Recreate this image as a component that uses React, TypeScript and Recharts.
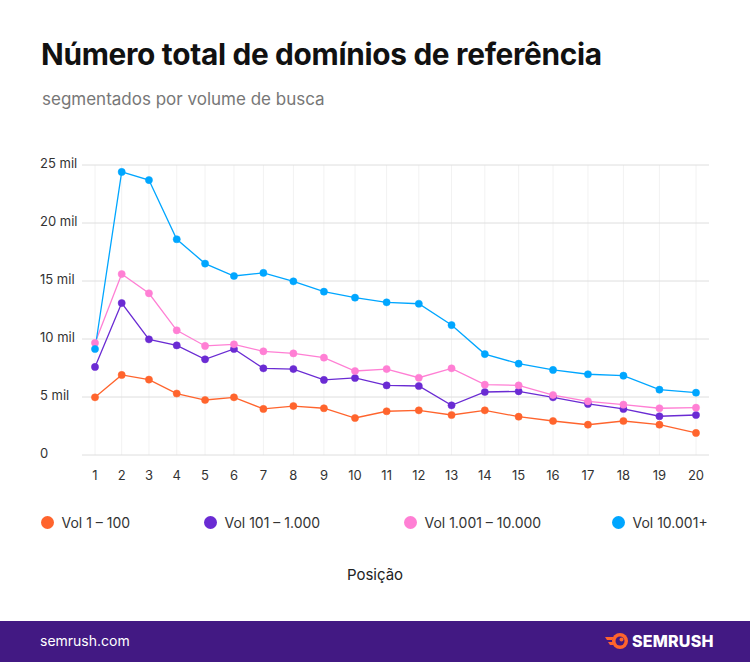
import React from 'react';
import { LineChart, Line, XAxis, YAxis, CartesianGrid } from 'recharts';

const positions = [1, 2, 3, 4, 5, 6, 7, 8, 9, 10, 11, 12, 13, 14, 15, 16, 17, 18, 19, 20];
const vol1to100 = [4970, 6900, 6500, 5300, 4740, 4970, 3970, 4220, 4030, 3190, 3770, 3850, 3450, 3850, 3300, 2930, 2610, 2930, 2610, 1900];
const vol101to1000 = [7590, 13100, 9970, 9450, 8250, 9140, 7470, 7410, 6470, 6640, 6000, 5950, 4280, 5430, 5490, 4970, 4400, 3970, 3340, 3450];
const vol1001to10000 = [9660, 15600, 13940, 10750, 9400, 9540, 8940, 8760, 8390, 7240, 7410, 6660, 7470, 6060, 6000, 5170, 4630, 4340, 4030, 4080];
const vol10001plus = [9140, 24400, 23700, 18600, 16500, 15430, 15700, 14970, 14080, 13560, 13160, 13040, 11200, 8700, 7870, 7330, 6960, 6840, 5630, 5370];
const yTicks = [0, 5000, 10000, 15000, 20000, 25000];
const yTickLabels = ['0', '5 mil', '10 mil', '15 mil', '20 mil', '25 mil'];

const seriesNames = ['Vol 1 – 100', 'Vol 101 – 1.000', 'Vol 1.001 – 10.000', 'Vol 10.001+'];
const seriesKeys = ['a', 'b', 'c', 'd'];
const seriesColors = ['#FF642D', '#6A2BD3', '#FF7FD4', '#00A6FF'];

const data = positions.map((p, i) => ({
  pos: p,
  a: vol1to100[i],
  b: vol101to1000[i],
  c: vol1001to10000[i],
  d: vol10001plus[i],
}));

const FONT = 'Inter, "Noto Sans", sans-serif';

// Gently widening horizontal scale (spacing grows to the right, as in the reference)
function makeWideningScale(c: number): any {
  let dom: number[] = [0, 1];
  let rng: number[] = [0, 1];
  const f = (v: number) => v + c * v * v;
  const finv = (y: number) => (-1 + Math.sqrt(1 + 4 * c * y)) / (2 * c);
  const s: any = (v: number) => {
    const d0 = f(Number(dom[0]));
    const d1 = f(Number(dom[1]));
    const t = d1 === d0 ? 0.5 : (f(Number(v)) - d0) / (d1 - d0);
    return rng[0] + t * (rng[1] - rng[0]);
  };
  s.domain = (d?: any[]) => {
    if (d === undefined) return dom.slice();
    dom = d.map(Number);
    return s;
  };
  s.range = (r?: number[]) => {
    if (r === undefined) return rng.slice();
    rng = r.slice();
    return s;
  };
  s.copy = () => makeWideningScale(c).domain(dom).range(rng);
  s.invert = (px: number) => {
    const d0 = f(dom[0]);
    const d1 = f(dom[1]);
    const t = (px - rng[0]) / (rng[1] - rng[0]);
    return finv(d0 + t * (d1 - d0));
  };
  s.ticks = () => {
    const out: number[] = [];
    for (let v = Math.ceil(Math.min(dom[0], dom[1])); v <= Math.max(dom[0], dom[1]); v++) out.push(v);
    return out;
  };
  s.tickFormat = () => (v: any) => String(v);
  s.clamp = () => s;
  s.nice = () => s;
  return s;
}

const xScale = makeWideningScale(0.0106);

const YTick = (props: any) => {
  const { y, payload } = props;
  const idx = yTicks.indexOf(payload.value);
  return (
    <text x={40} y={y} dy={3} textAnchor="start" fontSize={13} fill="#333" fontFamily={FONT}>
      {yTickLabels[idx] ?? String(payload.value)}
    </text>
  );
};

const XTick = (props: any) => {
  const { x, y, payload } = props;
  return (
    <text x={x} y={y} dy={17} textAnchor="middle" fontSize={13} fill="#333" fontFamily={FONT}>
      {payload.value}
    </text>
  );
};

const legendX = [47, 210, 410, 618];

export default function App() {
  return (
    <div style={{ position: 'absolute', left: 0, top: 0, width: 750, height: 662, background: '#fff', fontFamily: FONT, overflow: 'hidden' }}>
      <div style={{ position: 'absolute', left: 41, top: 36, fontSize: 29.8, fontWeight: 700, color: '#111', letterSpacing: -0.3, whiteSpace: 'nowrap' }}>
        Número total de domínios de referência
      </div>
      <div style={{ position: 'absolute', left: 42, top: 89, fontSize: 17, color: '#777', whiteSpace: 'nowrap' }}>
        segmentados por volume de busca
      </div>
      <div style={{ position: 'absolute', left: 0, top: 150 }}>
        <LineChart width={730} height={340} data={data} margin={{ top: 15, right: 21, bottom: 0, left: 0 }}>
          <CartesianGrid stroke="#f2f2f2" strokeWidth={1} horizontal={false} syncWithTicks />
          <CartesianGrid stroke="#dedede" strokeWidth={1} vertical={false} />
          <XAxis
            dataKey="pos"
            type="number"
            scale={xScale}
            domain={[1, 20]}
            ticks={positions}
            axisLine={false}
            tickLine={false}
            padding={{ left: 13, right: 13 }}
            tick={<XTick />}
            interval={0}
            height={35}
          />
          <YAxis
            domain={[0, 25000]}
            ticks={yTicks}
            axisLine={false}
            tickLine={false}
            width={82}
            tick={<YTick />}
            interval={0}
          />
          {seriesKeys.map((k, i) => (
            <Line
              key={k}
              dataKey={k}
              name={seriesNames[i]}
              stroke={seriesColors[i]}
              strokeWidth={1.3}
              dot={{ r: 3.6, fill: seriesColors[i], stroke: seriesColors[i], strokeWidth: 0.5 }}
              isAnimationActive={false}
            />
          ))}
        </LineChart>
      </div>
      {seriesNames.map((n, i) => (
        <div key={n} style={{ position: 'absolute', left: legendX[i] - 6.5, top: 512, height: 20, display: 'flex', alignItems: 'center', whiteSpace: 'nowrap' }}>
          <span style={{ width: 13, height: 13, borderRadius: '50%', background: seriesColors[i], display: 'inline-block', marginRight: 8 }} />
          <span style={{ fontSize: 14, color: '#333' }}>{n}</span>
        </div>
      ))}
      <div style={{ position: 'absolute', left: 0, width: 750, top: 565, textAlign: 'center', fontSize: 15, color: '#222' }}>
        Posição
      </div>
      <div style={{ position: 'absolute', left: 0, top: 621, width: 750, height: 41, background: '#421983' }}>
        <div style={{ position: 'absolute', left: 40, top: 11, fontSize: 14, color: '#fff' }}>semrush.com</div>
        <div style={{ position: 'absolute', left: 605, top: 10, display: 'flex', alignItems: 'center' }}>
          <svg width={24} height={18} viewBox="0 0 24 18">
            <path d="M0 5 L9 5 L7 8 L2 8 Z" fill="#FF642D" />
            <path d="M3 10 L9 10 L8 13 L5 13 Z" fill="#FF642D" />
            <circle cx={15} cy={9} r={8} fill="#FF642D" />
            <circle cx={15} cy={9} r={4.5} fill="#421983" />
            <circle cx={16.5} cy={7.5} r={2} fill="#FF642D" />
          </svg>
          <span style={{ color: '#fff', fontWeight: 800, fontSize: 16, marginLeft: 3, letterSpacing: 0.2 }}>SEMRUSH</span>
        </div>
      </div>
    </div>
  );
}
